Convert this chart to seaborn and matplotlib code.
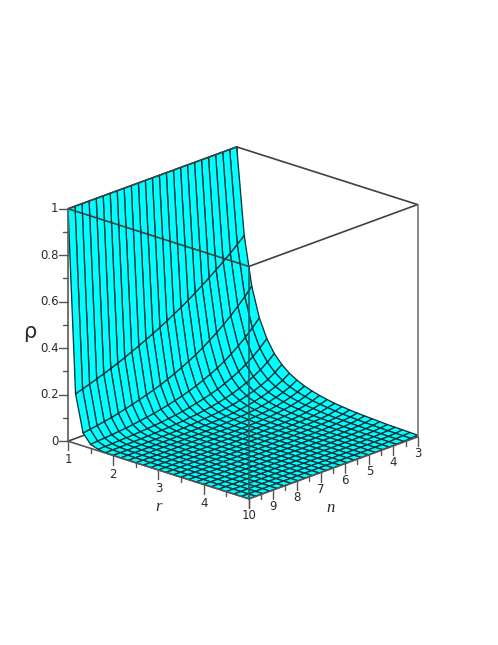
import numpy as np
import seaborn as sns
from matplotlib import pyplot as plt
from mpl_toolkits.mplot3d import proj3d

# rho, one row per r line, trailing zeros left out
r_values = [1, 1.167, 1.333, 1.5, 1.667, 1.833, 2, 2.167, 2.333, 2.5, 2.667, 2.833, 3,
            3.167, 3.333, 3.5, 3.667, 3.833, 4, 4.167, 4.333, 4.5, 4.667, 4.833, 5]
n_values = [3, 3.29, 3.58, 3.875, 4.17, 4.46, 4.75, 5.04, 5.33, 5.625, 5.92, 6.21, 6.5,
            6.79, 7.08, 7.375, 7.67, 7.96, 8.25, 8.54, 8.83, 9.125, 9.42, 9.71, 10]
rho_rows = [
    [1] * 25,
    [.630, .602, .575, .550, .526, .503, .481, .460, .439, .420, .402, .384, .367, .351, .336, .321, .307, .293, .280, .268, .256, .245, .234, .224, .214],
    [.422, .388, .357, .328, .301, .277, .255, .234, .215, .198, .182, .167, .154, .141, .130, .120, .110, .101, .093, .085, .078, .072, .066, .061, .056],
    [.296, .263, .234, .208, .185, .164, .146, .130, .115, .102, .091, .081, .072, .064, .057, .050, .045, .040, .035, .031, .028, .025, .022, .020, .017],
    [.216, .186, .160, .138, .119, .103, .089, .076, .066, .057, .049, .042, .036, .031, .027, .023, .020, .017, .015, .013, .011, .010, .008, .007, .006],
    [.162, .136, .114, .096, .080, .067, .056, .047, .039, .033, .028, .023, .020, .016, .014, .011, .010, .008, .007, .006, .005, .004, .003, .003, .002],
    [.125, .102, .083, .068, .056, .046, .037, .030, .025, .020, .017, .014, .011, .009, .007, .006, .005, .004, .003, .003, .002, .002, .001, .001, .001],
    [.098, .078, .063, .050, .040, .032, .025, .020, .016, .013, .010, .008, .007, .005, .004, .003, .003, .002, .002, .001, .001, .001, .001, .001],
    [.079, .061, .048, .038, .029, .023, .018, .014, .011, .009, .007, .005, .004, .003, .002, .002, .001, .001, .001, .001, .001],
    [.064, .049, .038, .029, .022, .017, .013, .010, .008, .006, .004, .003, .003, .002, .002, .001, .001, .001, .001],
    [.053, .040, .030, .022, .017, .013, .009, .007, .005, .004, .003, .002, .002, .001, .001, .001, .001],
    [.044, .032, .024, .018, .013, .010, .007, .005, .004, .003, .002, .002, .001, .001, .001, .001],
    [.037, .027, .020, .014, .010, .007, .005, .004, .003, .002, .001, .001, .001, .001],
    [.031, .023, .016, .011, .008, .006, .004, .003, .002, .001, .001, .001, .001],
    [.027, .019, .013, .009, .007, .005, .003, .002, .002, .001, .001, .001],
    [.023, .016, .011, .008, .006, .004, .003, .002, .001, .001, .001],
    [.020, .014, .010, .007, .004, .003, .002, .001, .001, .001],
    [.018, .012, .008, .005, .004, .002, .002, .001, .001, .001],
    [.016, .010, .007, .005, .003, .002, .001, .001, .001],
    [.014, .009, .006, .004, .003, .002, .001, .001],
    [.012, .008, .005, .003, .002, .001, .001, .001],
    [.011, .007, .005, .003, .002, .001, .001],
    [.010, .006, .004, .003, .002, .001, .001],
    [.009, .006, .004, .002, .001, .001],
    [.008, .005, .003, .002, .001, .001],
]

r_ticks = [1, 2, 3, 4, 5]
r_minor = [1.5, 2.5, 3.5, 4.5]
r_labels = ["1", "2", "3", "4"]
n_ticks = [3, 4, 5, 6, 7, 8, 9, 10]
n_minor = [3.5, 4.5, 5.5, 6.5, 7.5, 8.5, 9.5]
rho_ticks = [0, 0.2, 0.4, 0.6, 0.8, 1]
rho_minor = [0.1, 0.3, 0.5, 0.7, 0.9]
rho_labels = ["0", "0.2", "0.4", "0.6", "0.8", "1"]

sns.set_theme(style="white")
plt.rcParams["font.family"] = ["DejaVu Sans"]

AZIM, ELEV = 43, 20
BOX = "#404040"
TICK = "#555555"
TEXT = "#2a2a2a"

rho = np.array([row + [0] * (25 - len(row)) for row in rho_rows], dtype=float)
N, R = np.meshgrid(n_values, r_values)

fig = plt.figure(figsize=(4.98, 6.45), dpi=100)
ax = fig.add_axes([-0.026, -0.011, 1, 1], projection="3d", proj_type="ortho")
ax.computed_zorder = False
ax.view_init(elev=ELEV, azim=AZIM)
ax.set_xlim(3, 10, view_margin=0)
ax.set_ylim(1, 5, view_margin=0)
ax.set_zlim(0, 1, view_margin=0)
ax.set_box_aspect((1, 1, 1), zoom=0.835)
ax.set_axis_off()


def edge(p, q, z=3, color=BOX, lw=1.2):
    ax.plot([p[0], q[0]], [p[1], q[1]], [p[2], q[2]], color=color, lw=lw, zorder=z)


def label(x, y, z, s, **kw):
    # plain 2D text at the projected spot
    px, py, _ = proj3d.proj_transform(x, y, z, ax.get_proj())
    ax.text2D(px, py, s, transform=ax.transData, va="center", color=TEXT, **kw)


# box behind the surface
edge((3, 1, 0), (3, 5, 0), z=1)
edge((3, 1, 0), (10, 1, 0), z=1)
edge((3, 1, 0), (3, 1, 1), z=1)
edge((3, 1, 1), (3, 5, 1), z=1)

ax.plot_surface(N, R, rho, rstride=1, cstride=1, color="#00ffff", edgecolor="#07333a",
                linewidth=0.95, shade=False, antialiased=True, zorder=2)

# box in front of the surface
edge((10, 1, 1), (3, 1, 1))
edge((10, 1, 1), (10, 5, 1))
edge((10, 5, 1), (3, 5, 1))
edge((3, 5, 1), (3, 5, 0), color="#777777")
edge((10, 5, 1), (10, 5, 0), color="#1f5f66")
edge((10, 1, 1), (10, 1, 0), color="#666666", lw=1.3)
edge((10, 1, 0), (10, 5, 0), color=TICK, lw=1.2)
edge((10, 5, 0), (3, 5, 0), color=TICK, lw=1.2)

# ticks hang straight down on screen for r and n, and point left for rho
for v in r_ticks:
    edge((10, v, 0), (10, v, -0.04), color=TICK, lw=1.0)
for v in r_minor:
    edge((10, v, 0), (10, v, -0.02), color=TICK, lw=1.0)
for v in n_ticks:
    edge((v, 5, 0), (v, 5, -0.04), color=TICK, lw=1.0)
for v in n_minor:
    edge((v, 5, 0), (v, 5, -0.02), color=TICK, lw=1.0)

left_n = np.sin(np.radians(AZIM)) * 7 / 245
left_r = -np.cos(np.radians(AZIM)) * 4 / 245
for v in rho_ticks:
    edge((10, 1, v), (10 + 9 * left_n, 1 + 9 * left_r, v), color=TICK, lw=1.0)
for v in rho_minor:
    edge((10, 1, v), (10 + 4.5 * left_n, 1 + 4.5 * left_r, v), color=TICK, lw=1.0)

for v, s in zip(r_ticks, r_labels):
    label(10, v, -0.08, s, ha="center", fontsize=8.5)
for v in n_ticks:
    label(v, 5, -0.072, str(v), ha="center", fontsize=8.5)
for v, s in zip(rho_ticks, rho_labels):
    label(10 + 9.5 * left_n, 1 + 9.5 * left_r, v, s, ha="right", fontsize=8.5)

label(10, 3, -0.16, "r", ha="center", fontsize=12, style="italic", family="Liberation Serif")
label(6.6, 5, -0.17, "n", ha="center", fontsize=12, style="italic", family="Liberation Serif")
ax.text2D(30 / 498, 1 - 332 / 645, "ρ", transform=fig.transFigure, ha="center", va="center", fontsize=15, color=TEXT)

fig.savefig("out.png", dpi=100)
